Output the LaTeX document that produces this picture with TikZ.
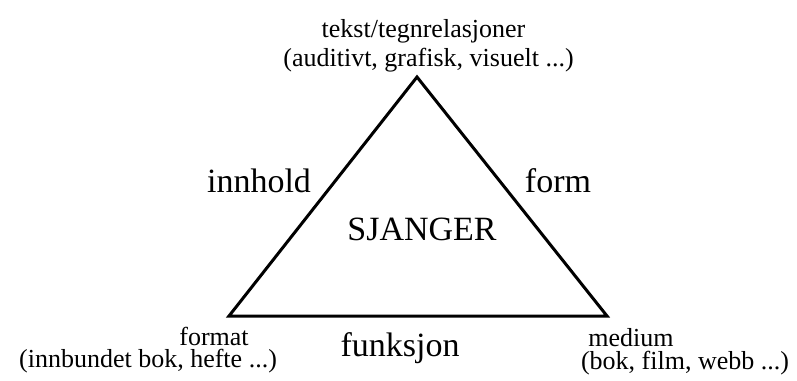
\documentclass[tikz,border=0pt]{standalone}
\usepackage{fontspec}
\setmainfont{Liberation Serif}
\begin{document}
\begin{tikzpicture}[x=1pt,y=-1pt,
  small/.style={anchor=base,inner sep=0pt,font=\fontsize{26}{30}\selectfont},
  pair/.style={anchor=base,inner sep=0pt,align=center,font=\fontsize{26}{22.5}\selectfont},
  big/.style={anchor=base,inner sep=0pt,font=\fontsize{34}{40}\selectfont},
  edge/.style={line width=3pt,line join=miter}]
\useasboundingbox (0,0) rectangle (797,380);
\coordinate (top) at (417,77);
\coordinate (bl) at (229,316);
\coordinate (br) at (607,316);
\draw[edge] (top) -- (br) -- (bl) -- cycle;
\node[small] (t1) at (423.5,37) {tekst/tegnrelasjoner};
\node[small] (t2) at (428.5,66) {(auditivt, grafisk, visuelt ...)};
\node[pair] (fmt) at (148,367.5) {\hspace*{132pt}format\\(innbundet bok, hefte ...)};
\node[pair] (med) at (685,369) {medium\hspace*{108pt}\\(bok, film, webb ...)};
\node[big] (inn) at (259,192) {innhold};
\node[big] (form) at (558,192) {form};
\node[big] (sj) at (422,240) {SJANGER};
\node[big] (fu) at (400,356) {funksjon};
\end{tikzpicture}
\end{document}
